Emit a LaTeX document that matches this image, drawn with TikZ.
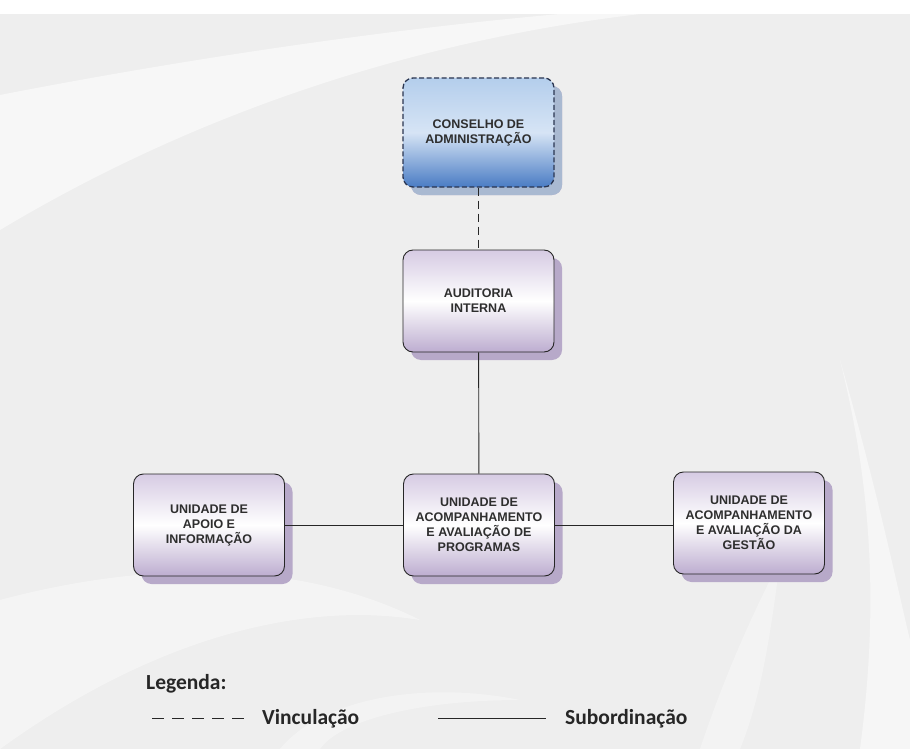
\documentclass[tikz,border=0pt]{standalone}
\usepackage{fontspec}
\newfontfamily\boxfont{Liberation Sans}
\newfontfamily\legfont{Carlito}
\usetikzlibrary{shadows}
\definecolor{bgray}{HTML}{EEEEEE}
\definecolor{lavtop}{HTML}{D6CBE3}
\definecolor{lavbot}{HTML}{BDADD0}
\definecolor{lavshadow}{HTML}{B7A9C9}
\definecolor{bluetop}{HTML}{B4CEEC}
\definecolor{bluemid}{HTML}{D6E4F5}
\definecolor{bluebot}{HTML}{4A7CC4}
\definecolor{blueshadow}{HTML}{A9B9D1}
\definecolor{txtgray}{HTML}{2E2E2E}
\definecolor{navy}{HTML}{2A3550}
\tikzset{
  orgbox/.style={rounded corners=10pt, draw=black!85, line width=0.9pt,
    minimum width=151pt, minimum height=102pt, align=center,
    top color=lavtop, bottom color=lavbot, middle color=white,
    text=txtgray, font=\boxfont\bfseries\fontsize{12.5}{15}\selectfont,
    drop shadow={shadow xshift=8pt, shadow yshift=-8pt, fill=lavshadow, opacity=1}},
  bluebox/.style={orgbox, line width=1.3pt, dash pattern=on 5pt off 2.5pt, draw=navy, minimum height=109pt,
    top color=bluetop, bottom color=bluebot, middle color=bluemid,
    drop shadow={shadow xshift=8pt, shadow yshift=-8pt, fill=blueshadow, opacity=1}},
  link/.style={draw=black!85, line width=0.9pt},
  vinc/.style={link, dash pattern=on 8pt off 5pt},
  legtxt/.style={font=\legfont\bfseries\fontsize{21.5}{26}\selectfont, text=black!85, anchor=west, inner sep=0pt}
}
\begin{document}
\begin{tikzpicture}[x=1pt,y=-1pt]
\useasboundingbox (0,0) rectangle (910,749);
% background
\fill[bgray] (0,0) rectangle (910,749);
\fill[white] (0,0) rectangle (910,14);
\fill[white, opacity=0.55] (0,95) .. controls (180,60) and (380,30) .. (560,14) -- (640,14) .. controls (420,40) and (200,110) .. (0,230) -- cycle;
\fill[white, opacity=0.4] (0,600) .. controls (150,560) and (300,560) .. (420,620) .. controls (300,600) and (150,640) .. (0,749) -- cycle;
\fill[white, opacity=0.5] (840,360) .. controls (880,500) and (900,600) .. (910,640) -- (910,749) -- (860,749) .. controls (880,600) and (870,480) .. (840,360) -- cycle;
\fill[white, opacity=0.35] (700,749) .. controls (730,660) and (760,600) .. (780,560) .. controls (770,640) and (760,700) .. (740,749) -- cycle;
\fill[white, opacity=0.35] (280,749) .. controls (320,700) and (420,680) .. (520,700) .. controls (420,700) and (340,720) .. (320,749) -- cycle;
% boxes
\node[bluebox] (cons) at (478.5,132.5) {CONSELHO DE\\ADMINISTRAÇÃO};
\node[orgbox] (aud) at (478.5,301) {AUDITORIA\\INTERNA};
\node[orgbox] (apoio) at (209,525) {UNIDADE DE\\APOIO E\\INFORMAÇÃO};
\node[orgbox] (prog) at (479,525) {UNIDADE DE\\ACOMPANHAMENTO\\E AVALIAÇÃO DE\\PROGRAMAS};
\node[orgbox] (gest) at (749,523) {UNIDADE DE\\ACOMPANHAMENTO\\E AVALIAÇÃO DA\\GESTÃO};
% connectors
\draw[vinc] (cons) -- (aud);
\draw[link] (aud) -- (prog);
\draw[link] (apoio) -- (prog);
\draw[link] (prog) -- (prog -| gest.west);
% legend
\node[legtxt] (leg) at (146,684) {Legenda:};
\coordinate (d1) at (152,718);
\coordinate (d2) at (246,718);
\draw[link, dash pattern=on 12pt off 8pt] (d1) -- (d2);
\node[legtxt] (vin) at (262,719) {Vinculação};
\coordinate (s1) at (438,718);
\coordinate (s2) at (546,718);
\draw[link] (s1) -- (s2);
\node[legtxt] (sub) at (565,719) {Subordinação};
\end{tikzpicture}
\end{document}
